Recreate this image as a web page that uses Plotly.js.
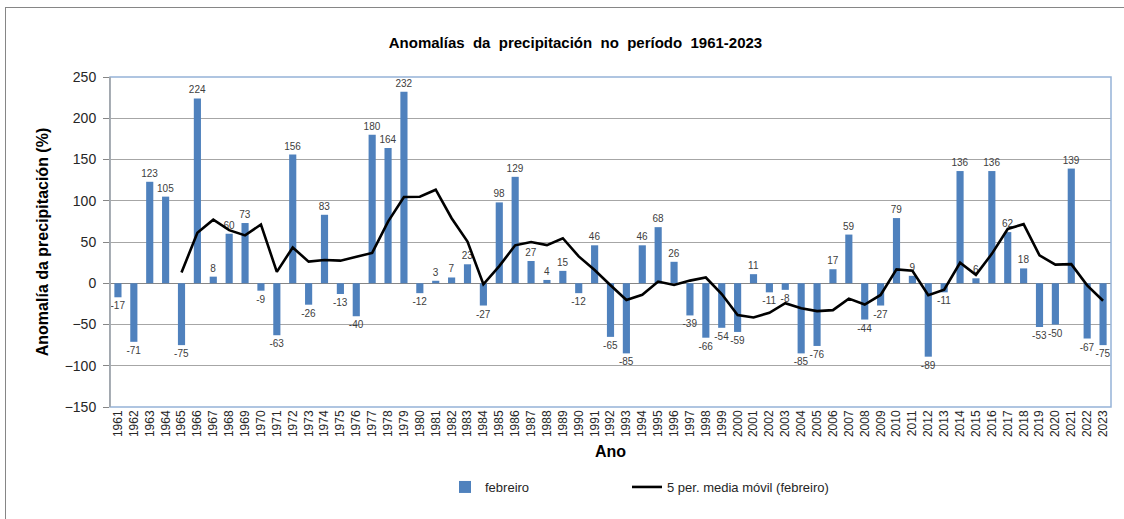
<!DOCTYPE html>
<html>
<head>
<meta charset="utf-8">
<script src="https://cdn.plot.ly/plotly-3.0.1.min.js"></script>
<style>
html,body{margin:0;padding:0;background:#fff;overflow:hidden;}
#wrap{position:relative;width:1124px;height:519px;}
#chart{position:absolute;left:0;top:0;width:1124px;height:519px;}
#frame{position:absolute;left:5px;top:7px;width:1200px;height:600px;border-left:1.5px solid #868686;border-top:1.5px solid #868686;pointer-events:none;}
</style>
</head>
<body>
<div id="wrap">
<div id="chart"></div>
<div id="frame"></div>
</div>
<script>
const years = [1961,1962,1963,1964,1965,1966,1967,1968,1969,1970,1971,1972,1973,1974,1975,1976,1977,1978,1979,1980,
1981,1982,1983,1984,1985,1986,1987,1988,1989,1990,1991,1992,1993,1994,1995,1996,1997,1998,1999,2000,
2001,2002,2003,2004,2005,2006,2007,2008,2009,2010,2011,2012,2013,2014,2015,2016,2017,2018,2019,2020,2021,2022,2023];

const febreiro = [-17,-71,123,105,-75,224,8,60,73,-9,-63,156,-26,83,-13,-40,180,164,232,-12,
3,7,23,-27,98,129,27,4,15,-12,46,-65,-85,46,68,26,-39,-66,-54,-59,
11,-11,-8,-85,-76,17,59,-44,-27,79,9,-89,-11,136,6,136,62,18,-53,-50,139,-67,-75];

const mediaMovil = [null,null,null,null,13,61.2,77,64.4,58,71.2,13.8,43.4,26.2,28.2,27.4,32,36.8,74.8,104.6,104.8,
113.4,78.8,50.6,-1.2,20.8,46,50,46.2,54.6,32.6,16,-2.4,-20.2,-14,2,-2,3.2,7,-13,-38.4,
-41.4,-35.8,-24.2,-30.4,-33.8,-32.6,-18.6,-25.8,-14.2,16.8,15.2,-14.4,-7.8,24.8,10.2,35.6,65.8,71.6,33.8,22.6,23.2,-2.6,-21.2];

const tickLabels = years.map(String);
const yTicks = [-150,-100,-50,0,50,100,150,200,250];

const FONT = 'Liberation Sans, Arial, sans-serif';

const traces = [
  {
    type: 'bar',
    name: 'febreiro',
    legend: 'legend',
    x: years,
    y: febreiro,
    width: 0.45,
    marker: {color: '#4f81bd'},
    text: febreiro.map(String),
    textposition: 'outside',
    constraintext: 'none',
    cliponaxis: false,
    textfont: {family: FONT, size: 10, color: '#404040'},
    hoverinfo: 'x+y'
  },
  {
    type: 'scatter',
    mode: 'lines',
    name: '5 per. media móvil (febreiro)',
    legend: 'legend2',
    x: years,
    y: mediaMovil,
    line: {color: '#000000', width: 2.6},
    connectgaps: false
  }
];

const legendBase = {
  orientation: 'h',
  yref: 'container', y: 1 - 487/519, yanchor: 'middle',
  xref: 'container', xanchor: 'left',
  font: {family: FONT, size: 13, color: '#262626'},
  bgcolor: 'rgba(0,0,0,0)'
};

const layout = {
  width: 1124,
  height: 519,
  margin: {l: 110, r: 13, t: 77, b: 112},
  paper_bgcolor: 'rgba(0,0,0,0)',
  plot_bgcolor: '#ffffff',
  font: {family: FONT, color: '#262626'},
  showlegend: true,
  title: {
    text: '<b>Anomalías  da  precipitación  no  período  1961-2023</b>',
    font: {family: FONT, size: 15, color: '#000000'},
    xref: 'container', x: 0.512, xanchor: 'center',
    yref: 'container', y: 1 - 43/519, yanchor: 'middle'
  },
  xaxis: {
    type: 'linear',
    range: [1960.5, 2023.5],
    tickmode: 'array',
    tickvals: years,
    ticktext: tickLabels,
    tickangle: -90,
    tickfont: {family: FONT, size: 12, color: '#262626'},
    ticks: '',
    showgrid: false,
    zeroline: false,
    showline: false,
    title: {text: '<b>Ano</b>', font: {family: FONT, size: 16, color: '#000000'}, standoff: 9},
    fixedrange: true
  },
  xaxis2: {
    type: 'linear',
    overlaying: 'x',
    anchor: 'free',
    position: 0.375,
    range: [1960.5, 2023.5],
    tickmode: 'array',
    tickvals: years.map(v => v + 0.5),
    ticks: 'outside',
    ticklen: 4,
    tickcolor: '#868686',
    showticklabels: false,
    showgrid: false,
    zeroline: false,
    showline: false
  },
  yaxis: {
    range: [-150, 250],
    tickmode: 'array',
    tickvals: yTicks,
    ticks: 'outside',
    ticklen: 6,
    tickcolor: '#868686',
    ticklabelstandoff: 4,
    tickfont: {family: FONT, size: 14, color: '#262626'},
    showgrid: true,
    gridcolor: '#a6a6a6',
    gridwidth: 1,
    zeroline: true,
    zerolinecolor: '#868686',
    zerolinewidth: 1,
    showline: true,
    linecolor: '#a6a6a6',
    linewidth: 1,
    title: {text: '<b>Anomalía da precipitación (%)</b>', font: {family: FONT, size: 16, color: '#000000'}, standoff: 12},
    fixedrange: true
  },
  legend: Object.assign({}, legendBase, {x: 445/1124}),
  legend2: Object.assign({}, legendBase, {x: 627/1124}),
  shapes: [
    {
      type: 'rect', xref: 'x domain', yref: 'y domain',
      x0: 0, x1: 1, y0: 0, y1: 1,
      line: {color: '#95b3d7', width: 1.5},
      fillcolor: 'rgba(0,0,0,0)', layer: 'above'
    },
    {
      type: 'line', xref: 'x domain', yref: 'y domain',
      x0: 0, x1: 0, y0: 0, y1: 1,
      line: {color: '#a6a6a6', width: 1.5}, layer: 'above'
    }
  ]
};

Plotly.newPlot('chart', traces, layout, {displayModeBar: false, staticPlot: true});
</script>
</body>
</html>
